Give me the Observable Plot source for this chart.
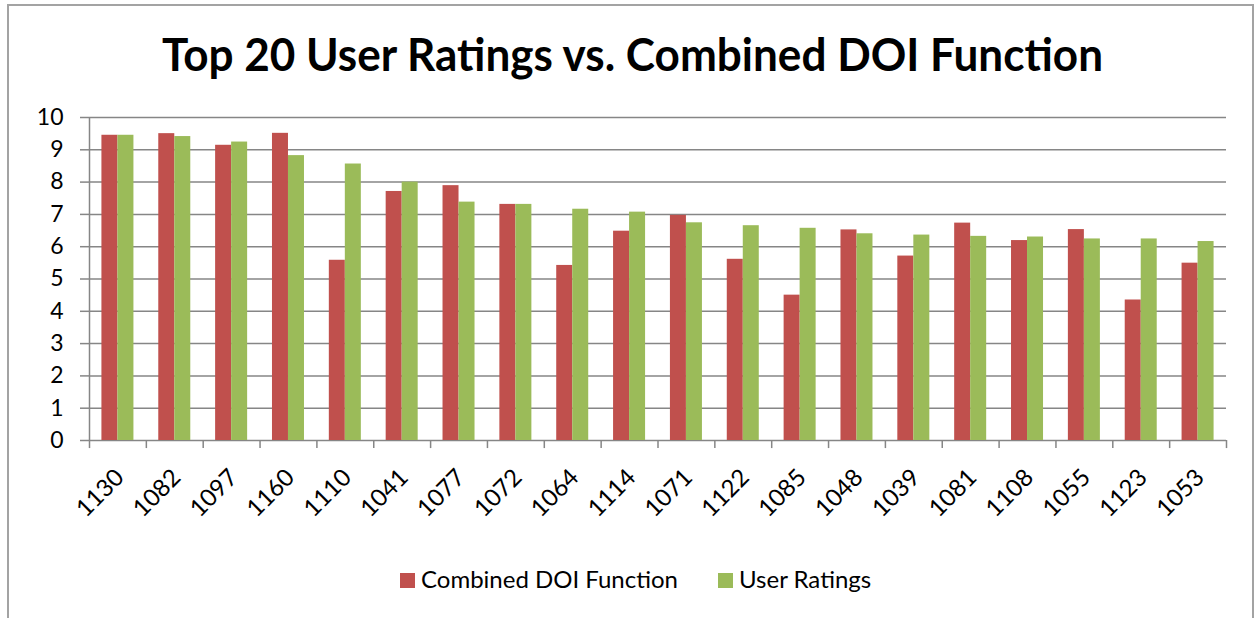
<!DOCTYPE html>
<html>
<head>
<meta charset="utf-8">
<script src="https://cdn.jsdelivr.net/npm/d3@7"></script>
<script src="https://cdn.jsdelivr.net/npm/@observablehq/plot@0.6"></script>
<style>
  body { margin: 0; background: #fff; font-family: Lato, "Open Sans", sans-serif; }
  #wrap { position: relative; width: 1255px; height: 618px; overflow: hidden; background: #fff; }
  #border { position: absolute; left: 7px; top: 4px; width: 1247px; height: 700px; border: 2px solid #a3a3a3; box-sizing: border-box; }
  #title { position: absolute; left: 162px; top: 32px; font-weight: 700; font-size: 45px; line-height: 45px; white-space: nowrap; color: #000; transform-origin: 0 0; }
  #chart { position: absolute; left: 0; top: 90px; }
  #legend { position: absolute; top: 564px; left: 0; width: 1255px; height: 30px; font-size: 24px; color: #000; }
  .item { position: absolute; top: 0; white-space: nowrap; line-height: 30px; }
  .sw { display: inline-block; width: 15px; height: 15px; vertical-align: 0px; margin-right: 6px; }
</style>
</head>
<body>
<div id="wrap">
  <div id="border"></div>
  <div id="title"></div>
  <div id="chart"></div>
  <div id="legend"></div>
</div>
<script>
const titleText = "Top 20 User Ratings vs. Combined DOI Function";
const ids = ["1130","1082","1097","1160","1110","1041","1077","1072","1064","1114","1071","1122","1085","1048","1039","1081","1108","1055","1123","1053"];
const doiValues = [9.45, 9.50, 9.14, 9.51, 5.58, 7.71, 7.89, 7.31, 5.42, 6.48, 6.97, 5.61, 4.50, 6.52, 5.71, 6.73, 6.19, 6.53, 4.35, 5.49];
const userValues = [9.45, 9.41, 9.24, 8.82, 8.56, 8.00, 7.38, 7.31, 7.16, 7.07, 6.74, 6.65, 6.57, 6.40, 6.36, 6.32, 6.30, 6.24, 6.24, 6.16];
const yTicks = [0, 1, 2, 3, 4, 5, 6, 7, 8, 9, 10];
const seriesNames = ["Combined DOI Function", "User Ratings"];
const seriesColors = ["#C0504D", "#9BBB59"];

const rows = ids.map((id, i) => ({id, doi: doiValues[i], user: userValues[i]}));

const W = 1255, H = 470;
const mL = 89, mR = 29, mT = 27, mB = 120;
const pIn = 0.437, pOut = 0.2185;
const step = (W - mL - mR) / (ids.length - pIn + 2 * pOut);
const bw = step * (1 - pIn);
const grid = "#868686";

const chart = Plot.plot({
  width: W, height: H,
  marginLeft: mL, marginRight: mR, marginTop: mT, marginBottom: mB,
  style: {fontFamily: "Lato, sans-serif", fontSize: "23px", color: "#000", background: "transparent"},
  x: {type: "band", domain: ids, paddingInner: pIn, paddingOuter: pOut, round: false, axis: null},
  y: {domain: [0, 10], axis: null},
  marks: [
    Plot.ruleY(yTicks, {y: d => d, stroke: grid, strokeWidth: 1.5}),
    Plot.barY(rows, {x: "id", y: "doi", fill: seriesColors[0], insetRight: bw / 2}),
    Plot.barY(rows, {x: "id", y: "user", fill: seriesColors[1], insetLeft: bw / 2}),
    Plot.ruleX([ids[0]], {x: d => d, y1: 0, y2: 10, dx: -step / 2, stroke: grid, strokeWidth: 1.5}),
    Plot.ruleX(ids, {x: d => d, y1: 0, y2: -0.25, dx: -step / 2, stroke: grid, strokeWidth: 1.5}),
    Plot.ruleX([ids[ids.length - 1]], {x: d => d, y1: 0, y2: -0.25, dx: step / 2, stroke: grid, strokeWidth: 1.5}),
    Plot.axisY({ticks: yTicks, tickSize: 9, tickPadding: 17, stroke: grid, strokeWidth: 1.5, fill: "#000", fontSize: 23, label: null, tickFormat: d => String(d)}),
    Plot.text(ids, {x: d => d, y: 0, text: d => d, rotate: -45, textAnchor: "end", lineAnchor: "middle", dx: 2, dy: 33, fontSize: 24, fill: "#000"})
  ]
});
document.getElementById("chart").appendChild(chart);

const t = document.getElementById("title");
t.textContent = titleText;
const tw = t.getBoundingClientRect().width;
t.style.transform = `scaleX(${941 / tw})`;

const legend = document.getElementById("legend");
const lefts = [400, 718];
seriesNames.forEach((name, i) => {
  const it = document.createElement("div");
  it.className = "item";
  it.style.left = lefts[i] + "px";
  const sw = document.createElement("span");
  sw.className = "sw";
  sw.style.background = seriesColors[i];
  it.appendChild(sw);
  it.appendChild(document.createTextNode(name));
  legend.appendChild(it);
});
</script>
</body>
</html>
